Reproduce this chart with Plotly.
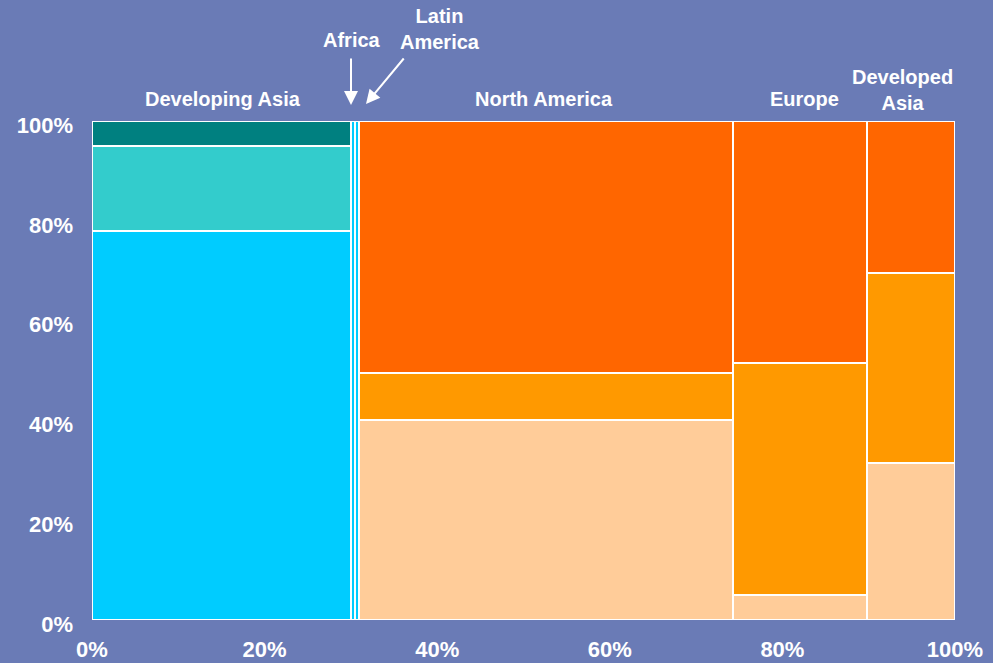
import plotly.graph_objects as go

# ---- data ----
regions = ["Developing Asia", "Africa", "Latin America", "North America", "Europe", "Developed Asia"]
widths = [30.0, 0.45, 0.5, 43.3, 15.5, 10.25]          # share of x (%)
seg_bottom = [78.0, 100.0, 100.0, 40.0, 5.0, 31.5]       # bottom segment (%)
seg_middle = [17.0, 0.0, 0.0, 9.5, 46.5, 38.0]           # middle segment (%)
seg_top = [5.0, 0.0, 0.0, 50.5, 48.5, 30.5]              # top segment (%)
x_ticks = [0, 20, 40, 60, 80, 100]
x_tick_labels = ["0%", "20%", "40%", "60%", "80%", "100%"]
y_ticks = [0, 20, 40, 60, 80, 100]
y_tick_labels = ["0%", "20%", "40%", "60%", "80%", "100%"]

blue_cols = ["#00CCFF", "#33CCCC", "#008080"]
orange_cols = ["#FFCC99", "#FF9900", "#FF6600"]
region_palette = [blue_cols, blue_cols, blue_cols, orange_cols, orange_cols, orange_cols]

lefts = []
acc = 0.0
for w in widths:
    lefts.append(acc)
    acc += w

fig = go.Figure()
for i, r in enumerate(regions):
    base = 0.0
    for k, seg in enumerate([seg_bottom[i], seg_middle[i], seg_top[i]]):
        if seg <= 0:
            continue
        fig.add_trace(go.Bar(
            x=[lefts[i]], y=[seg], base=[base], width=[widths[i]], offset=0,
            marker=dict(color=region_palette[i][k], line=dict(color="white", width=2)),
            showlegend=False, hoverinfo="skip", name=r,
        ))
        base += seg

W, H = 993, 663
L, R, T, B = 92, 955, 121, 620


def dx(px):
    return (px - L) / (R - L)


def dy(py):
    return (B - py) / (B - T)


font_lbl = dict(family="Liberation Sans, Arial, sans-serif", size=20, color="white")
ann = []
labels = [
    ("<b>Developing Asia</b>", 223, 99),
    ("<b>North America</b>", 544, 99),
    ("<b>Europe</b>", 804, 99),
    ("<b>Developed<br>Asia</b>", 902, 90),
    ("<b>Africa</b>", 352, 40),
    ("<b>Latin<br>America</b>", 440, 29),
]
for txt, px, py in labels:
    ann.append(dict(x=dx(px), y=dy(py), xref="paper", yref="paper", text=txt, showarrow=False,
                    font=font_lbl, xanchor="center", yanchor="middle"))

# arrows
ann.append(dict(x=dx(351), y=dy(105), xref="paper", yref="paper", ax=0, ay=-48, text="",
                showarrow=True, arrowhead=2, arrowsize=1.4, arrowwidth=2, arrowcolor="white"))
ann.append(dict(x=dx(366), y=dy(104), xref="paper", yref="paper", ax=39, ay=-47, text="",
                showarrow=True, arrowhead=2, arrowsize=1.4, arrowwidth=2, arrowcolor="white"))

tickfont = dict(family="Liberation Sans, Arial, sans-serif", size=22, color="white")
fig.update_layout(
    width=W, height=H,
    margin=dict(l=L, r=W - R, t=T, b=H - B, pad=0),
    paper_bgcolor="#6a7bb6", plot_bgcolor="#6a7bb6",
    barmode="overlay", bargap=0,
    annotations=ann,
    xaxis=dict(range=[0, 100], tickvals=x_ticks, ticktext=["<b>%s</b>" % t for t in x_tick_labels],
               showgrid=False, zeroline=False, showline=False, ticks="", tickfont=tickfont,
               ticklabelstandoff=14, automargin=False, fixedrange=True),
    yaxis=dict(range=[0, 100], tickvals=y_ticks, ticktext=["<b>%s</b>" % t for t in y_tick_labels],
               showgrid=False, zeroline=False, showline=False, ticks="", tickfont=tickfont,
               ticklabelstandoff=18, ticklabelshift=4, automargin=False, fixedrange=True),
)

fig.write_html("out.html", config={"displayModeBar": False},
               post_script="document.body.style.margin='0';document.body.style.overflow='hidden';")
